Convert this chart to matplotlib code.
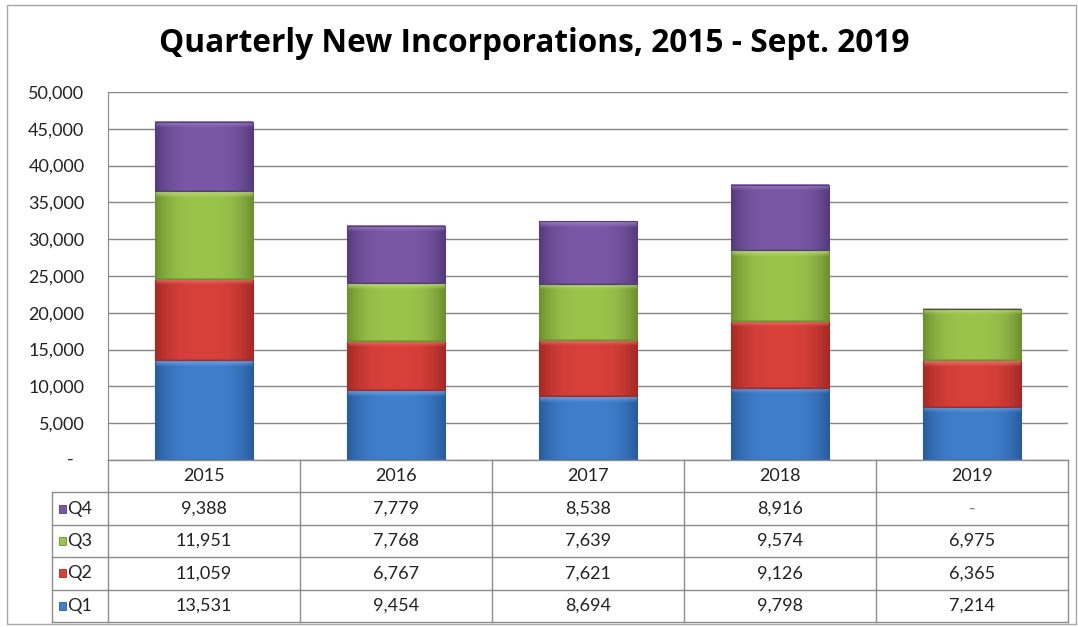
import numpy as np
import matplotlib.pyplot as plt
from matplotlib.patches import Rectangle
from matplotlib.colors import to_rgb

years = ["2015", "2016", "2017", "2018", "2019"]
quarters = ["Q1", "Q2", "Q3", "Q4"]
q1 = [13531, 9454, 8694, 9798, 7214]
q2 = [11059, 6767, 7621, 9126, 6365]
q3 = [11951, 7768, 7639, 9574, 6975]
q4 = [9388, 7779, 8538, 8916, 0]
yticks = list(range(0, 50001, 5000))

series = [q1, q2, q3, q4]
# (dark edge, middle, light top) per quarter
shades = [
    ("#2a5c9e", "#3f7fcc", "#79b0ee"),
    ("#a52a26", "#d8403a", "#f48a80"),
    ("#6d9131", "#9bc44b", "#c8e384"),
    ("#553c7d", "#7b58a6", "#a78bcb"),
]

W, H = 1078, 627
plt.rcParams['font.family'] = ['Lato', 'DejaVu Sans']
fig = plt.figure(figsize=(W / 100, H / 100), dpi=100)

def fig_rect(x0, y0, x1, y1):
    # pixel box (top-left origin) -> figure fraction [l, b, w, h]
    return [x0 / W, 1 - y1 / H, (x1 - x0) / W, (y1 - y0) / H]

# outer chart border
fig.add_artist(Rectangle((7 / W, 1 - 624 / H), 1069 / W, 619 / H,
                         transform=fig.transFigure, fill=False,
                         edgecolor="#a6a6a6", lw=1))

fig.text(534 / W, 1 - 44 / H, "Quarterly New Incorporations, 2015 - Sept. 2019",
         ha="center", va="center", fontsize=22.8, fontweight="bold",
         family=["Open Sans", "DejaVu Sans"])

fs = 13

# ---- bars ----
ax = fig.add_axes(fig_rect(108, 92, 1068, 460))
x = np.arange(len(years))
width = 0.51
ymax = 50000
px_per_unit = 368 / ymax


def bar_image(dark, mid, light, hpx):
    nx, ny = 60, max(int(hpx), 4)
    t = np.linspace(0, 1, nx)
    prof = 1 - np.abs(2 * t - 1) ** 3          # dark at the sides
    d, m, l = np.array(to_rgb(dark)), np.array(to_rgb(mid)), np.array(to_rgb(light))
    row = d[None, :] + (m - d)[None, :] * prof[:, None]
    img = np.repeat(row[None, :, :], ny, axis=0)
    band = min(6, ny // 3)
    for k in range(band):
        a = 0.75 * (1 - k / band)
        img[k] = img[k] * (1 - a) + l * a
    img[-1] = img[-1] * 0.6 + d * 0.4
    return img


bottoms = np.zeros(len(years))
for vals, (dark, mid, light) in zip(series, shades):
    vals = np.array(vals, dtype=float)
    for xi, b, v in zip(x, bottoms, vals):
        if v <= 0:
            continue
        img = bar_image(dark, mid, light, v * px_per_unit)
        ax.imshow(img, extent=(xi - width / 2, xi + width / 2, b, b + v),
                  aspect="auto", interpolation="bilinear", zorder=3)
    ax.bar(x, vals, width, bottom=bottoms, facecolor="none",
           edgecolor=dark, lw=0.8, zorder=4)
    bottoms += vals

ax.set_xlim(-0.5, len(years) - 0.5)
ax.set_ylim(0, ymax)
ax.set_yticks(yticks)
ax.set_yticklabels([f"{v:,}" if v else "" for v in yticks], fontsize=fs,
                   color="#222222")
ax.text(-38 / 960, 0, "-", transform=ax.get_yaxis_transform(), ha="center",
        va="center", fontsize=fs, color="#222222")
ax.tick_params(axis="y", length=0, pad=17)
ax.set_xticks([])
ax.grid(axis="y", color="#868686", lw=1, zorder=0)
ax.set_axisbelow(True)
for s in ["top", "right", "bottom"]:
    ax.spines[s].set_visible(False)
ax.spines["left"].set_color("#868686")

# ---- data table ----
tx = fig.add_axes(fig_rect(52, 460, 1068, 622))
tx.set_xlim(52, 1068)
tx.set_ylim(622, 460)
tx.axis("off")
lc = "#8c8c8c"
col_edges = np.linspace(108, 1068, len(years) + 1)
row_edges = np.linspace(460, 622, len(quarters) + 2)

tx.plot([108, 1068], [row_edges[0]] * 2, color=lc, lw=1, clip_on=False)
for yy in row_edges[1:]:
    tx.plot([52, 1068], [yy, yy], color=lc, lw=1, clip_on=False)
for xx in col_edges:
    tx.plot([xx, xx], [row_edges[0], row_edges[-1]], color=lc, lw=1, clip_on=False)
tx.plot([52, 52], [row_edges[1], row_edges[-1]], color=lc, lw=1, clip_on=False)

centers = (col_edges[:-1] + col_edges[1:]) / 2
for c, yr in zip(centers, years):
    tx.text(c, (row_edges[0] + row_edges[1]) / 2, yr, ha="center", va="center",
            fontsize=fs, color="#222222")

for i, qi in enumerate(reversed(range(len(quarters)))):
    y0, y1 = row_edges[i + 1], row_edges[i + 2]
    yc = (y0 + y1) / 2
    dark, mid, light = shades[qi]
    tx.add_patch(Rectangle((59, yc - 4), 7, 8, facecolor=mid, edgecolor=dark,
                           lw=0.6, clip_on=False))
    tx.text(67, yc, quarters[qi], ha="left", va="center", fontsize=fs,
            color="#222222")
    for c, v in zip(centers, series[qi]):
        tx.text(c, yc, f"{v:,}" if v else "-", ha="center", va="center",
                fontsize=fs, color="#222222" if v else "#777777")

fig.savefig("out.png", dpi=100)
